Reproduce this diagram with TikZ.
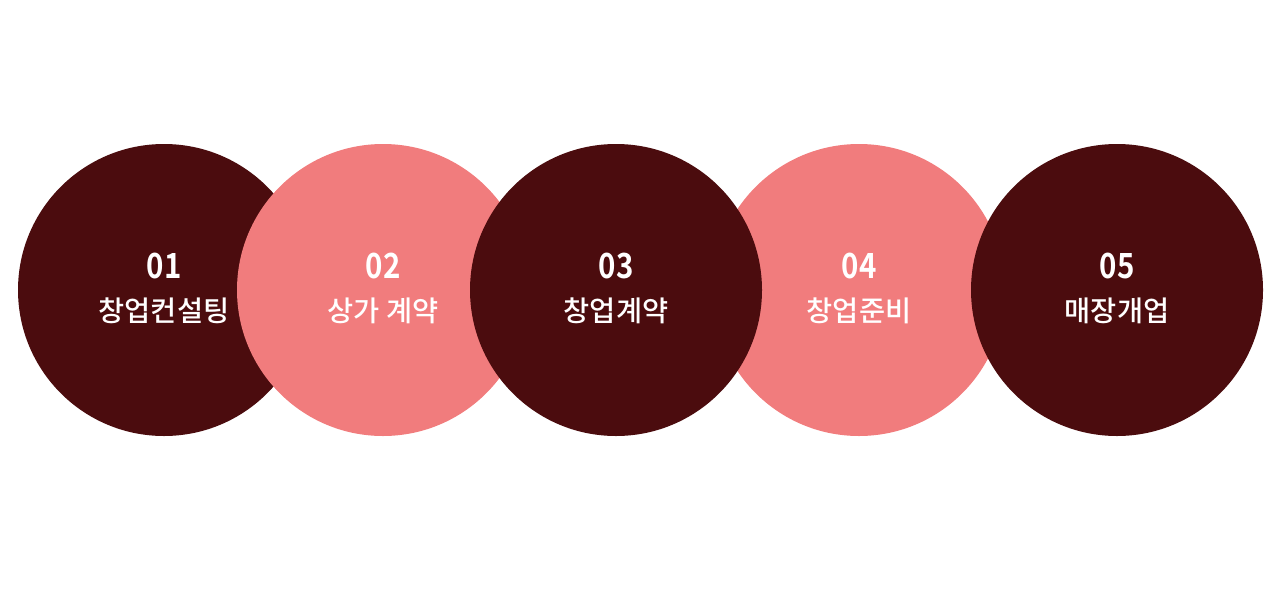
\documentclass[tikz,border=0pt]{standalone}
\usepackage{fontspec}
\newfontfamily\krfont{Noto Sans CJK KR Medium}
\newfontfamily\numfont{Noto Sans CJK KR Bold}
\definecolor{stepdark}{RGB}{75,12,14}
\definecolor{steppink}{RGB}{241,124,125}
\tikzset{
  stepcircle/.style={circle, minimum size=219pt, inner sep=0pt, draw=none},
  stepnum/.style={text=white, xscale=0.85, font=\numfont\fontsize{26}{26}\selectfont},
  steplabel/.style={text=white, font=\krfont\fontsize{21.3}{22}\selectfont},
}
\begin{document}
\begin{tikzpicture}[x=0.75pt,y=-0.75pt]
    \useasboundingbox (0,0) rectangle (1280,600);

    % Step 1
    \node[stepcircle, fill=stepdark] (c1) at (164,290) {};
    \node[stepnum] (n1) at (164,266) {01};
    \node[steplabel] (t1) at (164,311) {창업컨설팅};

    % Step 2
    \node[stepcircle, fill=steppink] (c2) at (383,290) {};
    \node[stepnum] (n2) at (383,266) {02};
    \node[steplabel] (t2) at (383,311) {상가 계약};

    % Step 4 (under 3 and 5)
    \node[stepcircle, fill=steppink] (c4) at (859,290) {};
    \node[stepnum] (n4) at (859,266) {04};
    \node[steplabel] (t4) at (859,311) {창업준비};

    % Step 3
    \node[stepcircle, fill=stepdark] (c3) at (616,290) {};
    \node[stepnum] (n3) at (616,266) {03};
    \node[steplabel] (t3) at (616,311) {창업계약};

    % Step 5
    \node[stepcircle, fill=stepdark] (c5) at (1117,290) {};
    \node[stepnum] (n5) at (1117,266) {05};
    \node[steplabel] (t5) at (1117,311) {매장개업};
\end{tikzpicture}
\end{document}
